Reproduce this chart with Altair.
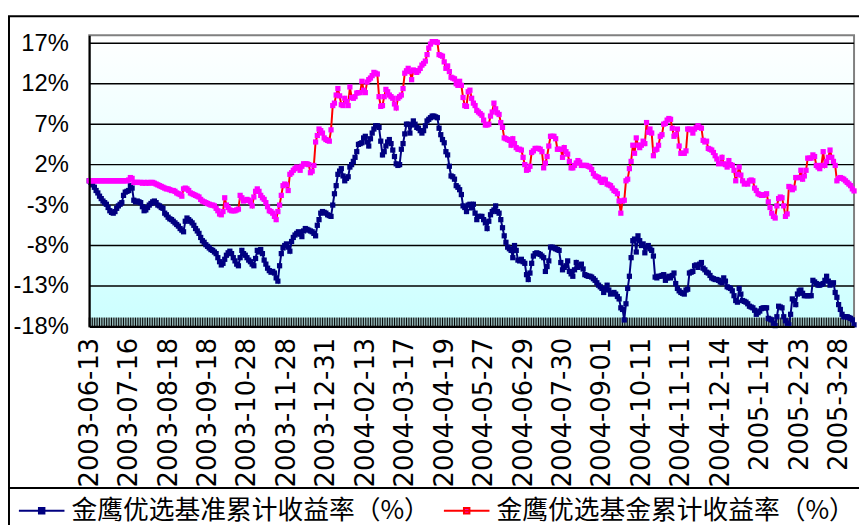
import altair as alt
import pandas as pd

benchmark = [
    0.0, -0.2, -0.5, -0.8, -1.2, -1.5, -1.9, -2.2, -2.5, -2.7,
    -2.9, -3.3, -3.7, -3.9, -4.0, -3.8, -3.4, -3.1, -2.9, -2.7,
    -1.8, -1.4, -1.3, -1.2, -0.6, -0.9, -2.4, -2.6, -2.5, -2.6,
    -2.7, -3.2, -3.7, -3.6, -3.3, -3.0, -2.8, -2.6, -2.5, -2.7,
    -3.0, -3.1, -3.3, -3.4, -4.0, -4.2, -4.5, -4.7, -4.8, -5.0,
    -5.2, -5.4, -5.6, -5.9, -6.1, -6.3, -5.0, -4.6, -4.8, -5.0,
    -5.2, -5.5, -5.9, -6.2, -6.5, -7.0, -7.4, -7.6, -7.9, -8.1,
    -8.3, -8.5, -8.6, -8.8, -9.0, -9.5, -10.0, -10.4, -10.2, -9.7,
    -9.2, -8.9, -8.7, -9.0, -9.5, -9.9, -10.3, -10.5, -9.5, -8.6,
    -9.0, -9.2, -9.5, -9.8, -10.0, -10.3, -10.5, -9.6, -8.6, -8.8,
    -8.5, -9.0, -9.8, -10.3, -10.8, -11.1, -11.3, -11.2, -11.4, -12.0,
    -12.4, -10.5, -9.0, -8.3, -8.0, -7.8, -8.2, -8.7, -7.5, -7.0,
    -6.7, -6.5, -6.3, -6.6, -6.9, -6.2, -5.9, -6.0, -6.1, -6.2,
    -6.3, -6.5, -6.8, -5.5, -4.8, -4.0, -3.8, -3.9, -4.0, -4.2,
    -4.3, -4.4, -3.0, -1.6, -0.6, 0.8, 1.2, 1.5, 0.6, 0.0,
    0.3, 0.5, 1.7, 2.0, 2.4, 2.9, 3.6, 4.5, 4.6, 4.7,
    5.3, 5.5, 4.8, 4.3, 5.2, 5.9, 6.4, 6.8, 6.8, 6.6,
    4.9, 3.2, 3.6, 4.3, 4.8, 5.1, 4.6, 3.8, 3.0, 2.1,
    1.9, 2.0, 3.9, 4.6, 5.8, 7.0, 7.0, 5.9, 6.9, 7.4,
    7.0, 6.6, 6.5, 6.2, 5.9, 6.2, 6.8, 7.4, 7.6, 7.8,
    8.0, 8.0, 7.9, 7.8, 6.5, 5.7, 5.1, 4.7, 3.6, 3.2,
    1.8, 0.6, 0.5, 0.2, -0.6, -0.8, -1.1, -1.7, -3.1, -3.3,
    -3.8, -3.0, -2.9, -3.35, -2.9, -4.0, -4.8, -4.4, -4.4, -4.4,
    -4.8, -5.2, -5.9, -5.0, -4.2, -3.8, -3.6, -3.1, -3.8, -4.0,
    -4.8, -5.8, -6.8, -7.6, -8.2, -8.4, -8.6, -9.5, -8.0, -8.6,
    -9.8, -9.9, -9.7, -10.0, -10.2, -11.6, -12.2, -11.4, -10.2, -9.3,
    -9.0, -8.9, -9.0, -9.1, -9.3, -9.5, -11.2, -10.6, -9.9, -8.2,
    -8.2, -8.3, -8.4, -8.5, -8.6, -10.1, -11.0, -10.7, -10.5, -9.9,
    -11.2, -11.5, -11.8, -11.0, -10.1, -10.7, -10.5, -10.3, -10.9, -11.6,
    -11.7, -11.8, -11.8, -11.9, -12.1, -12.3, -12.6, -12.9, -13.1, -13.3,
    -13.8, -13.4, -12.9, -13.5, -14.0, -13.9, -13.8, -14.0, -14.3, -14.6,
    -15.7, -15.9, -17.2, -15.2, -13.3, -11.8, -9.5, -7.4, -7.2, -8.8,
    -6.8, -7.4, -8.0, -7.8, -8.9, -8.2, -8.0, -8.4, -8.6, -9.3,
    -11.9, -12.0, -11.8, -11.8, -11.7, -11.6, -12.3, -12.0, -11.8, -12.0,
    -11.7, -11.4, -12.7, -13.3, -13.6, -13.8, -13.9, -14.0, -13.5, -13.4,
    -11.4, -11.3, -11.2, -10.5, -10.4, -10.7, -10.3, -10.1, -10.8, -11.0,
    -11.3, -11.4, -11.7, -12.0, -12.1, -12.2, -12.2, -12.3, -12.5, -12.6,
    -12.0, -12.4, -13.1, -13.2, -13.3, -13.6, -14.2, -14.8, -15.0, -13.3,
    -14.0, -14.8, -14.9, -15.0, -15.2, -15.5, -15.6, -15.7, -16.0, -16.5,
    -16.3, -16.1, -15.8, -15.7, -15.7, -15.7, -17.0, -17.1, -17.2, -17.6,
    -17.9, -16.8, -15.5, -15.6, -15.7, -16.8, -17.3, -17.6, -17.8, -16.5,
    -14.6, -14.8, -15.3, -14.0, -13.6, -13.5, -13.9, -14.2, -14.2, -14.2,
    -14.2, -14.2, -12.3, -12.5, -12.7, -12.9, -12.9, -12.8, -12.7, -12.3,
    -11.8, -12.4, -12.9, -12.7, -12.6, -13.8, -14.4, -15.3, -15.9, -16.5,
    -16.8, -16.8, -16.8, -16.9, -17.0, -17.2, -17.8,
]

fund = [
    0.0, 0.0, 0.0, 0.0, 0.0, 0.0, 0.0, 0.0, 0.0, 0.0,
    0.0, 0.0, 0.0, 0.0, 0.0, 0.0, 0.0, 0.0, 0.0, 0.0,
    0.0, 0.0, 0.0, 0.1, 0.4, 0.3, -0.2, -0.2, -0.2, -0.2,
    -0.2, -0.3, -0.2, -0.3, -0.2, -0.3, -0.2, -0.2, -0.3, -0.4,
    -0.5, -0.6, -0.7, -0.8, -0.9, -1.0, -1.0, -1.1, -1.2, -1.2,
    -1.3, -1.5, -1.6, -1.7, -1.9, -1.0, -0.9, -1.0, -1.2, -1.5,
    -1.6, -1.7, -1.8, -1.9, -2.0, -2.3, -2.5, -2.6, -2.7, -2.8,
    -2.9, -3.0, -3.0, -3.1, -3.4, -3.7, -4.1, -4.2, -3.8, -2.1,
    -3.0, -3.3, -3.6, -3.7, -3.7, -3.7, -3.6, -3.5, -1.8, -2.1,
    -2.5, -2.4, -2.3, -2.4, -2.6, -3.1, -2.0, -1.3, -1.0, -1.3,
    -1.8, -2.1, -2.3, -2.7, -3.2, -3.7, -3.8, -4.0, -4.4, -4.8,
    -3.8, -3.0, -1.8, -0.6, -0.4, -0.5, -1.2, 0.8, 1.0, 1.3,
    1.5, 1.7, 1.6, 1.3, 1.8, 2.1, 2.1, 2.1, 2.0, 1.0,
    1.2, 1.9, 4.8, 5.6, 6.4, 6.2, 5.9, 5.3, 5.1, 5.0,
    4.9, 6.3, 9.3, 9.6, 10.6, 11.4, 10.5, 9.4, 9.3, 10.2,
    9.8, 9.3, 11.6, 10.3, 10.2, 10.4, 10.85, 10.9, 10.9, 12.3,
    11.2, 10.9, 12.2, 12.5, 12.7, 13.0, 13.4, 13.3, 13.2, 10.4,
    9.2, 9.3, 10.4, 11.3, 11.0, 10.6, 10.4, 10.2, 9.5, 9.0,
    10.2, 10.4, 10.6, 11.4, 13.3, 13.6, 13.9, 13.5, 12.5, 13.7,
    13.6, 13.4, 13.6, 13.9, 14.3, 14.5, 14.8, 15.6, 16.4, 16.9,
    17.2, 17.2, 17.2, 17.1, 15.6, 15.5, 15.4, 14.7, 13.9, 14.2,
    13.5, 12.8, 12.7, 12.6, 12.0, 11.8, 12.3, 11.8, 10.3, 9.3,
    9.2, 11.0, 11.2, 10.2, 9.6, 9.3, 8.7, 8.5, 8.3, 8.1,
    7.5, 6.9, 6.9, 7.0, 8.0, 8.5, 9.6, 8.9, 8.4, 8.2,
    7.2, 6.6, 5.3, 5.2, 5.1, 5.0, 4.4, 5.2, 4.6, 4.1,
    3.9, 3.9, 3.8, 2.9, 2.0, 1.3, 1.4, 1.8, 3.5, 3.7,
    4.0, 4.0, 4.0, 3.9, 3.6, 1.6, 2.2, 3.0, 4.3, 5.5,
    5.5, 5.5, 5.2, 3.9, 3.9, 3.9, 2.9, 4.1, 3.6, 3.3,
    2.4, 1.6, 1.6, 1.9, 2.2, 2.5, 2.3, 1.9, 1.9, 1.9,
    1.9, 1.8, 1.7, 1.4, 0.9, 0.6, 0.5, 0.4, 0.0, -0.2,
    0.2, 0.1, -0.4, -0.5, -0.6, -0.9, -1.2, -1.3, -1.6, -2.5,
    -4.0, -2.5, -2.4, 0.0, 0.2, 1.5, 2.4, 4.4, 3.4, 5.3,
    4.4, 4.1, 4.4, 4.9, 4.6, 7.2, 6.0, 6.4, 5.9, 3.1,
    3.8, 3.9, 4.4, 5.5, 5.7, 7.0, 7.1, 7.5, 7.7, 7.6,
    6.5, 5.5, 5.7, 6.4, 4.3, 3.4, 3.4, 3.4, 3.7, 6.4,
    6.4, 6.3, 5.9, 6.4, 6.6, 6.8, 6.6, 6.5, 5.0, 4.8,
    4.9, 4.0, 3.9, 3.8, 3.5, 3.1, 2.7, 2.1, 2.2, 2.9,
    2.1, 2.0, 1.7, 2.5, 2.0, 1.9, 1.3, 0.0, 0.8, 1.7,
    0.7, 0.0, -0.4, -0.3, -0.4, 0.0, 0.1, 0.0, -0.9, -1.2,
    -1.6, -1.7, -1.8, -1.8, -1.7, -1.6, -2.6, -3.3, -4.0, -4.4,
    -4.6, -3.1, -2.2, -2.0, -2.1, -3.1, -4.4, -4.1, -0.7, -0.8,
    -1.1, -0.9, 0.4, 0.4, 0.4, 1.3, 0.2, 0.6, 1.3, 2.8,
    2.8, 2.8, 3.2, 3.0, 1.9, 1.7, 1.5, 1.9, 3.6, 1.9,
    2.4, 2.9, 3.8, 2.9, 2.4, 1.9, 0.0, 0.3, 0.4, 0.3,
    0.2, 0.0, -0.2, -0.4, -0.6, -1.0, -1.25,
]

series_names = ["金鹰优选基准累计收益率（%）", "金鹰优选基金累计收益率（%）"]
tick_labels = [
    "2003-06-13", "2003-07-16", "2003-08-18", "2003-09-18", "2003-10-28",
    "2003-11-28", "2003-12-31", "2004-02-13", "2004-03-17", "2004-04-19",
    "2004-05-27", "2004-06-29", "2004-07-30", "2004-09-01", "2004-10-11",
    "2004-11-11", "2004-12-14", "2005-1-14", "2005-2-23", "2005-3-28",
]
tick_positions = [0, 23, 46, 69, 92, 115, 138, 161, 184, 207,
                  230, 253, 276, 299, 322, 345, 368, 391, 414, 437]
y_ticks = [-18, -13, -8, -3, 2, 7, 12, 17]
grid_values = [-13, -8, -3, 2, 7, 12, 17]

n = len(benchmark)
idx = list(range(n))
df = pd.DataFrame({
    "i": idx + idx,
    "v": benchmark + fund,
    "series": [series_names[0]] * n + [series_names[1]] * n,
})
df_idx = pd.DataFrame({"i": idx})
df_grid = pd.DataFrame({"g": grid_values})

W, H = 772, 294

xscale = alt.Scale(domain=[0, n - 1], nice=False, zero=False)
yscale = alt.Scale(domain=[-18, 18], nice=False, zero=False)

lbl_arr = "[" + ",".join("'%s'" % s for s in tick_labels) + "]"
pos_arr = "[" + ",".join(str(p) for p in tick_positions) + "]"
xaxis = alt.Axis(
    values=tick_positions, title=None, grid=False, ticks=False, tickSize=0,
    labelExpr=f"{lbl_arr}[indexof({pos_arr}, datum.value)]",
    labelAngle=270, labelAlign="right", labelBaseline="middle",
    labelPadding=11, labelFont="DejaVu Sans", labelFontSize=26,
    labelColor="black", labelOverlap=False, labelFlush=False, labelBound=False,
    domainColor="black", domainWidth=2, zindex=1,
)
yaxis = alt.Axis(
    values=y_ticks, title=None, grid=False, ticks=False, tickSize=0,
    labelExpr="datum.value + '%'", labelPadding=21,
    labelFont="Liberation Sans Narrow, Arial Narrow, Liberation Sans, Arial",
    labelFontSize=24, labelColor="black", labelOverlap=False, labelFlush=False,
    domainColor="black", domainWidth=2, zindex=1,
)

legend = alt.Legend(
    title=None, orient="none", legendX=-72, legendY=456,
    direction="horizontal", columns=2,
    symbolType="M-1,0L1,0M-0.12,-0.12L0.12,-0.12L0.12,0.12L-0.12,0.12Z",
    symbolSize=2116, symbolStrokeWidth=2,
    labelFont="Noto Sans CJK SC", labelFontSize=26, labelColor="black",
    labelLimit=700, labelOffset=6, columnPadding=10, padding=0, rowPadding=0,
)

bg = alt.Chart(pd.DataFrame({"a": [0]})).mark_rect(
    color=alt.Gradient(
        gradient="linear",
        stops=[alt.GradientStop(color="#FFFFFF", offset=0),
               alt.GradientStop(color="#CCFFFF", offset=1)],
        x1=0, x2=0, y1=0, y2=1,
    ),
    stroke="#808080", strokeWidth=2,
).encode(x=alt.value(0), x2=alt.value(W), y=alt.value(0), y2=alt.value(H))

grid = alt.Chart(df_grid).mark_rule(color="black", strokeWidth=1.5).encode(
    y=alt.Y("g:Q", scale=yscale, axis=yaxis),
    x=alt.value(0), x2=alt.value(W),
)

xticks = alt.Chart(df_idx).mark_rule(color="black", strokeWidth=1).encode(
    x=alt.X("i:Q", scale=xscale, axis=xaxis),
    y=alt.YDatum(-18, scale=yscale, axis=yaxis, type="quantitative"),
    y2=alt.Y2Datum(-16.9),
)

lines = alt.Chart(df).mark_line(strokeWidth=2).encode(
    x=alt.X("i:Q", scale=xscale, axis=xaxis),
    y=alt.Y("v:Q", scale=yscale, axis=yaxis),
    stroke=alt.Stroke("series:N", scale=alt.Scale(domain=series_names, range=["#000080", "#FF0000"]), legend=legend),
)

points = alt.Chart(df).mark_point(shape="square", filled=True, size=28, opacity=1, strokeWidth=0).encode(
    x=alt.X("i:Q", scale=xscale, axis=xaxis),
    y=alt.Y("v:Q", scale=yscale, axis=yaxis),
    fill=alt.Fill("series:N", scale=alt.Scale(domain=series_names, range=["#000080", "#FF00FF"]), legend=legend),
)

frame_df = pd.DataFrame({"a": [0]})
frame_left = alt.Chart(frame_df).mark_rule(color="black", strokeWidth=2).encode(
    x=alt.value(-81), y=alt.value(-19), y2=alt.value(520))
frame_top = alt.Chart(frame_df).mark_rule(color="black", strokeWidth=2).encode(
    x=alt.value(-82), x2=alt.value(800), y=alt.value(-19))
legend_sep = alt.Chart(frame_df).mark_rule(color="black", strokeWidth=2).encode(
    x=alt.value(-82), x2=alt.value(800), y=alt.value(457))

chart = alt.layer(
    bg, grid, xticks, lines, points, frame_left, frame_top, legend_sep
).properties(
    width=W, height=H,
    padding={"left": 82, "top": 25, "right": 5, "bottom": 198},
    autosize=alt.AutoSizeParams(type="none"),
).configure_view(stroke=None)

chart.save("out.html", embed_options={"renderer": "svg", "actions": False})
